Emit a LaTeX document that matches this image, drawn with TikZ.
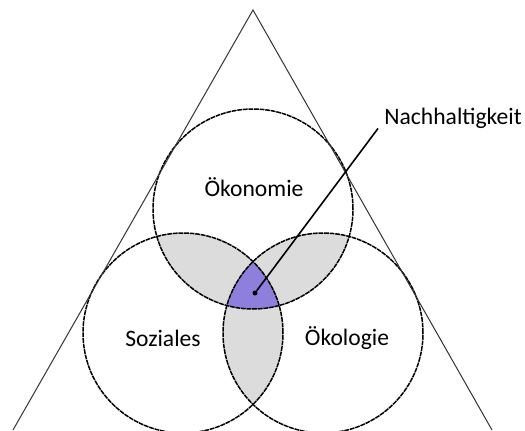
\documentclass[tikz,border=0pt]{standalone}
\usepackage{fontspec}
\setmainfont{Carlito}
\usepackage{tikz}
\usetikzlibrary{positioning,calc}
\definecolor{lensgray}{HTML}{DCDCDC}
\definecolor{corepurple}{HTML}{8E7FDC}
\tikzset{
  triside/.style   = {line width=0.5pt, black!80},
  venncircle/.style = {line width=0.75pt, dash pattern=on 2.4pt off 0.4pt, black},
  lensfill/.style  = {fill=lensgray},
  corefill/.style  = {fill=corepurple},
  areatext/.style  = {font=\fontsize{11.8}{14}\selectfont, inner sep=1pt},
  pointer/.style   = {line width=0.8pt, black},
}

\begin{document}
\begin{tikzpicture}[x=0.5pt, y=0.5pt]
    \useasboundingbox (0,0) rectangle (525,430);

    % --- CENTRES OF THE THREE CIRCLES ---
    \coordinate (oek) at (253,221);
    \coordinate (soz) at (183,97);
    \coordinate (ecol) at (323,97);
    \def\rad{100}

    % --- LENSES (pairwise overlaps) ---
    \begin{scope}
        \clip (oek) circle (\rad);
        \fill[lensfill] (soz) circle (\rad);
        \fill[lensfill] (ecol) circle (\rad);
    \end{scope}
    \begin{scope}
        \clip (soz) circle (\rad);
        \fill[lensfill] (ecol) circle (\rad);
    \end{scope}

    % --- CORE (all three) ---
    \begin{scope}
        \clip (oek) circle (\rad);
        \clip (soz) circle (\rad);
        \fill[corefill] (ecol) circle (\rad);
    \end{scope}

    % --- CIRCLES ---
    \foreach \c in {oek,soz,ecol}
        \draw[venncircle] (\c) circle (\rad);

    % --- TRIANGLE ---
    \coordinate (apex) at (253,420);
    \coordinate (baseL) at (13,0);
    \coordinate (baseR) at (492,0);
    \draw[triside] (baseL) -- (apex) -- (baseR);

    % --- LABELS ---
    \node[areatext] (oektxt) at (254,243) {Ökonomie};
    \node[areatext] (soztxt) at (163,92) {Soziales};
    \node[areatext] (ecoltxt) at (347,92) {Ökologie};
    \node[areatext, anchor=base west] (nh) at (382,306) {Nachhaltigkeit};

    % --- POINTER ---
    \node[circle, fill=black, inner sep=0pt, minimum size=2.5pt] (dot) at (255,137) {};
    \draw[pointer] (dot) -- ([xshift=-2pt,yshift=1pt]nh.south west);

\end{tikzpicture}
\end{document}
